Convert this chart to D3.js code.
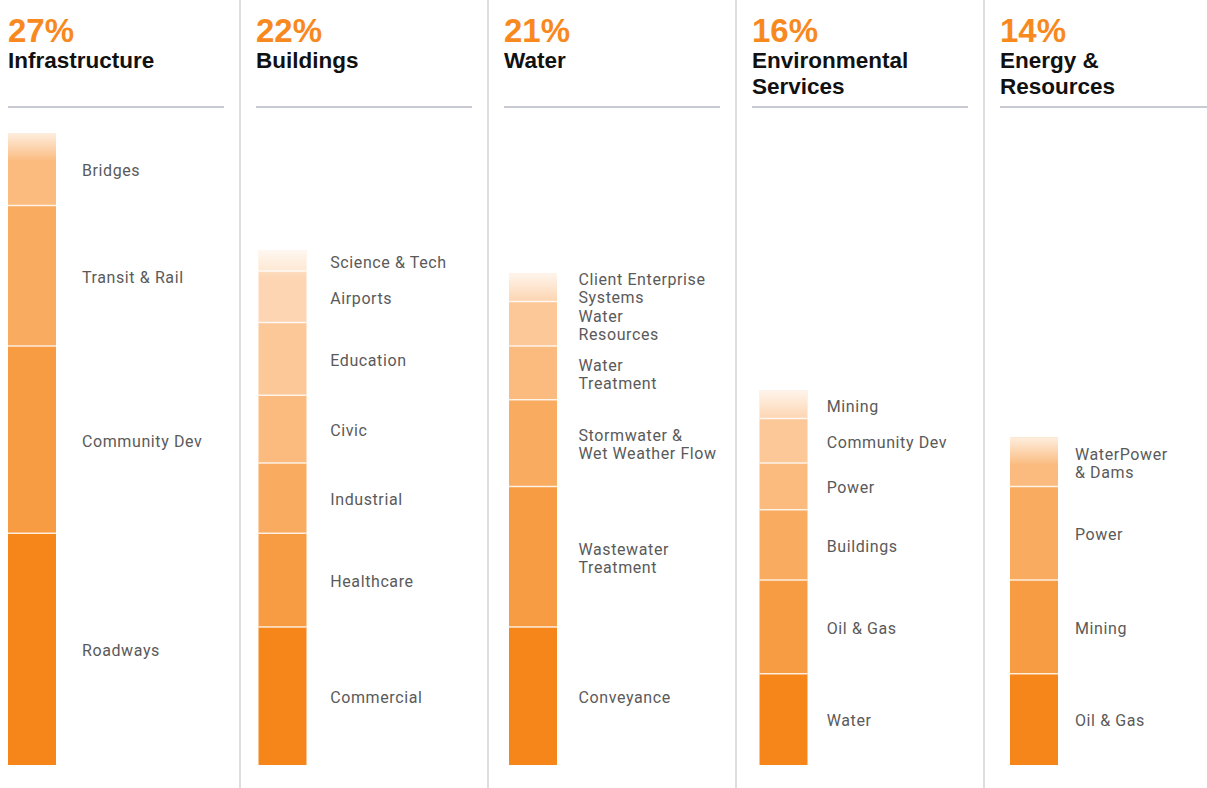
<!DOCTYPE html>
<html>
  <head>
    <script type="text/javascript" src="https://d3js.org/d3.v7.min.js"></script>
    <style>
      body { margin: 0; background: #fff; }
    </style>
  </head>
  <body>
    <svg id="chart" width="1207" height="788"></svg>

    <script>
      // sector shares (%)
      const sectors = ["Infrastructure", "Buildings", "Water", "Environmental Services", "Energy & Resources"];
      const sectorTitles = [["Infrastructure"], ["Buildings"], ["Water"], ["Environmental", "Services"], ["Energy &", "Resources"]];
      const sectorShares = [27, 22, 21, 16, 14];

      // sub-markets, listed bottom to top
      const infraNames = ["Roadways", "Community Dev", "Transit & Rail", "Bridges"];
      const infraValues = [9.9, 8.0, 6.0, 3.1];

      const buildingNames = ["Commercial", "Healthcare", "Industrial", "Civic", "Education", "Airports", "Science & Tech"];
      const buildingValues = [5.9, 4.0, 3.0, 2.9, 3.1, 2.2, 0.9];

      const waterNames = ["Conveyance", "Wastewater\nTreatment", "Stormwater &\nWet Weather Flow", "Water\nTreatment", "Water\nResources", "Client Enterprise\nSystems"];
      const waterValues = [5.9, 6.0, 3.7, 2.3, 1.9, 1.2];

      const envNames = ["Water", "Oil & Gas", "Buildings", "Power", "Community Dev", "Mining"];
      const envValues = [3.9, 4.0, 3.0, 2.0, 1.9, 1.2];

      const energyNames = ["Oil & Gas", "Mining", "Power", "WaterPower\n& Dams"];
      const energyValues = [3.9, 4.0, 4.0, 2.1];

      const allNames = [infraNames, buildingNames, waterNames, envNames, energyNames];
      const allValues = [infraValues, buildingValues, waterValues, envValues, energyValues];

      const shades = ["#f6861a", "#f89c43", "#f9ab60", "#fbbb7f", "#fcc898", "#fdd5b2", "#fee2c8"];
      const orange = "#f7891f";

      const svg = d3.select("#chart");

      // soft fade at the top of each bar
      const grad = svg
        .append("defs")
        .append("linearGradient")
        .attr("id", "fade")
        .attr("x1", 0)
        .attr("x2", 0)
        .attr("y1", 0)
        .attr("y2", 1);
      grad.append("stop").attr("offset", "0%").attr("stop-color", "#fff").attr("stop-opacity", 0.75);
      grad.append("stop").attr("offset", "100%").attr("stop-color", "#fff").attr("stop-opacity", 0);

      var y = d3.scaleLinear().domain([0, 27]).range([765, 133]);

      var panelX = d3.scaleLinear().domain([0, 1]).range([0, 248]);
      var barW = 48;

      // vertical dividers
      svg
        .append("g")
        .selectAll("line")
        .data([1, 2, 3, 4])
        .enter()
        .append("line")
        .attr("x1", (d) => panelX(d) - 8)
        .attr("x2", (d) => panelX(d) - 8)
        .attr("y1", 0)
        .attr("y2", 788)
        .attr("stroke", "#d3d3d3")
        .attr("stroke-width", 1.5);

      sectors.forEach(function (sector, i) {
        const x0 = panelX(i);
        const g = svg.append("g").attr("class", "panel");

        // header
        g.append("text")
          .attr("x", x0 + 8)
          .attr("y", 42)
          .attr("font-family", "Liberation Sans, Arial, sans-serif")
          .attr("font-weight", "bold")
          .attr("font-size", 33)
          .attr("fill", orange)
          .text(sectorShares[i] + "%");

        g.append("text")
          .attr("font-family", "Liberation Sans, Arial, sans-serif")
          .attr("font-weight", "bold")
          .attr("font-size", 22.5)
          .attr("fill", "#111")
          .selectAll("tspan")
          .data(sectorTitles[i])
          .enter()
          .append("tspan")
          .attr("x", x0 + 8)
          .attr("y", (d, k) => 68 + k * 26)
          .text((d) => d);

        g.append("line")
          .attr("x1", x0 + 8)
          .attr("x2", i == 4 ? 1207 : x0 + 224)
          .attr("y1", 107)
          .attr("y2", 107)
          .attr("stroke", "#c7cad1")
          .attr("stroke-width", 2);

        // stacked bar
        const vals = allValues[i];
        const names = allNames[i];
        let acc = 0;
        const segs = vals.map(function (v, k) {
          const s = { name: names[k], y0: acc, y1: acc + v, k: k };
          acc += v;
          return s;
        });

        const bx = 8 + i * 250.5;
        g.selectAll("rect.seg")
          .data(segs)
          .enter()
          .append("rect")
          .attr("class", "seg")
          .attr("x", bx)
          .attr("width", barW)
          .attr("y", (d) => y(d.y1))
          .attr("height", (d) => y(d.y0) - y(d.y1))
          .attr("fill", (d) => shades[d.k]);

        g.append("rect")
          .attr("x", bx)
          .attr("width", barW)
          .attr("y", y(acc))
          .attr("height", 28)
          .attr("fill", "url(#fade)");

        // thin white separators between segments
        g.selectAll("line.sep")
          .data(segs.slice(1))
          .enter()
          .append("line")
          .attr("class", "sep")
          .attr("x1", bx)
          .attr("x2", bx + barW)
          .attr("y1", (d) => y(d.y0))
          .attr("y2", (d) => y(d.y0))
          .attr("stroke", "#fff")
          .attr("stroke-opacity", 0.8)
          .attr("stroke-width", 1.5);

        // labels
        const lx = 82 + i * 248.25;
        const labels = g
          .selectAll("text.lab")
          .data(segs)
          .enter()
          .append("text")
          .attr("class", "lab")
          .attr("font-family", "Roboto, sans-serif")
          .attr("font-size", 16)
          .attr("letter-spacing", 0.6)
          .attr("fill", "#5a5a5a");

        labels.each(function (d) {
          const lines = d.name.split("\n");
          const cy = (y(d.y0) + y(d.y1)) / 2;
          d3.select(this)
            .selectAll("tspan")
            .data(lines)
            .enter()
            .append("tspan")
            .attr("x", lx)
            .attr("y", (t, k) => cy + 7 - (lines.length - 1) * 9 + k * 18)
            .text((t) => t);
        });
      });
    </script>
  </body>
</html>
